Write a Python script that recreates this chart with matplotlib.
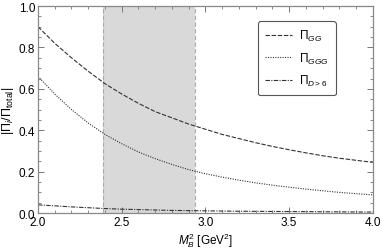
import matplotlib
matplotlib.use("Agg")
import matplotlib.pyplot as plt
from matplotlib.ticker import MultipleLocator, FormatStrFormatter

plt.rcParams['font.family'] = ['Liberation Sans', 'DejaVu Sans']
plt.rcParams['mathtext.fontset'] = 'custom'
plt.rcParams['mathtext.rm'] = 'Liberation Sans'
plt.rcParams['mathtext.it'] = 'Liberation Sans:italic'

M2 = [2.0, 2.1, 2.2, 2.3, 2.4, 2.5, 2.6, 2.7, 2.8, 2.9, 3.0,
      3.1, 3.2, 3.3, 3.4, 3.5, 3.6, 3.7, 3.8, 3.9, 4.0]
pi_gg = [0.90, 0.82, 0.75, 0.685, 0.625, 0.575, 0.53, 0.49, 0.46, 0.43, 0.405,
         0.38, 0.36, 0.34, 0.322, 0.306, 0.291, 0.277, 0.265, 0.255, 0.245]
pi_ggg = [0.66, 0.575, 0.50, 0.435, 0.38, 0.335, 0.295, 0.263, 0.235, 0.21, 0.19,
          0.174, 0.159, 0.146, 0.135, 0.125, 0.116, 0.108, 0.100, 0.094, 0.088]
pi_d6 = [0.040, 0.035, 0.030, 0.026, 0.022, 0.019, 0.017, 0.015, 0.013, 0.012, 0.011,
         0.010, 0.009, 0.0085, 0.008, 0.0075, 0.007, 0.0065, 0.006, 0.0055, 0.005]
window = [2.39, 2.94]

fig = plt.figure(figsize=(3.82, 2.51), dpi=100)
ax = fig.add_axes([0.0995, 0.147, 0.8765, 0.825])

ax.axvspan(window[0], window[1], color='#d9d9d9', lw=0, zorder=0)
for xv in window:
    ax.axvline(xv, color='#aaaaaa', lw=0.8, ls=(0, (4, 2)), zorder=1)

lc = '#333333'
ax.plot(M2, pi_gg, color=lc, lw=0.8, ls=(0, (4, 1.5)), label=r'$\Pi_{GG}$')
ax.plot(M2, pi_ggg, color=lc, lw=0.8, ls=(0, (1, 1.2)), label=r'$\Pi_{GGG}$')
ax.plot(M2, pi_d6, color=lc, lw=0.8, ls=(0, (4, 1.2, 1, 1.2)), label=r'$\Pi_{D>6}$')

ax.set_xlim(2.0, 4.0)
ax.set_ylim(0.0, 1.0)
ax.xaxis.set_major_locator(MultipleLocator(0.5))
ax.xaxis.set_minor_locator(MultipleLocator(0.1))
ax.yaxis.set_major_locator(MultipleLocator(0.2))
ax.yaxis.set_minor_locator(MultipleLocator(0.05))
ax.xaxis.set_major_formatter(FormatStrFormatter('%.1f'))
ax.yaxis.set_major_formatter(FormatStrFormatter('%.1f'))
ax.tick_params(which='both', direction='in', top=True, right=True,
               color='#777777', labelsize=8.5, pad=2)
ax.tick_params(which='major', length=4, width=0.7)
ax.tick_params(which='minor', length=2, width=0.6)
for s in ax.spines.values():
    s.set_color('#888888')
    s.set_linewidth(0.9)

ax.set_xlabel(r'$M_B^2$ [GeV$^2$]', fontsize=8.5, labelpad=2)
ax.set_ylabel(r'$|\Pi_i/\Pi_{\rm total}|$', fontsize=9)
ax.yaxis.set_label_coords(-0.066, 0.5)

leg = ax.legend(loc='upper right', bbox_to_anchor=(0.907, 0.955), fontsize=8.5,
                handlelength=2.3, handletextpad=0.6, labelspacing=0.6,
                borderpad=0.6, fancybox=True, framealpha=1)
leg.get_frame().set_edgecolor('#555555')
leg.get_frame().set_linewidth(0.8)

fig.savefig('out.png', dpi=100)
